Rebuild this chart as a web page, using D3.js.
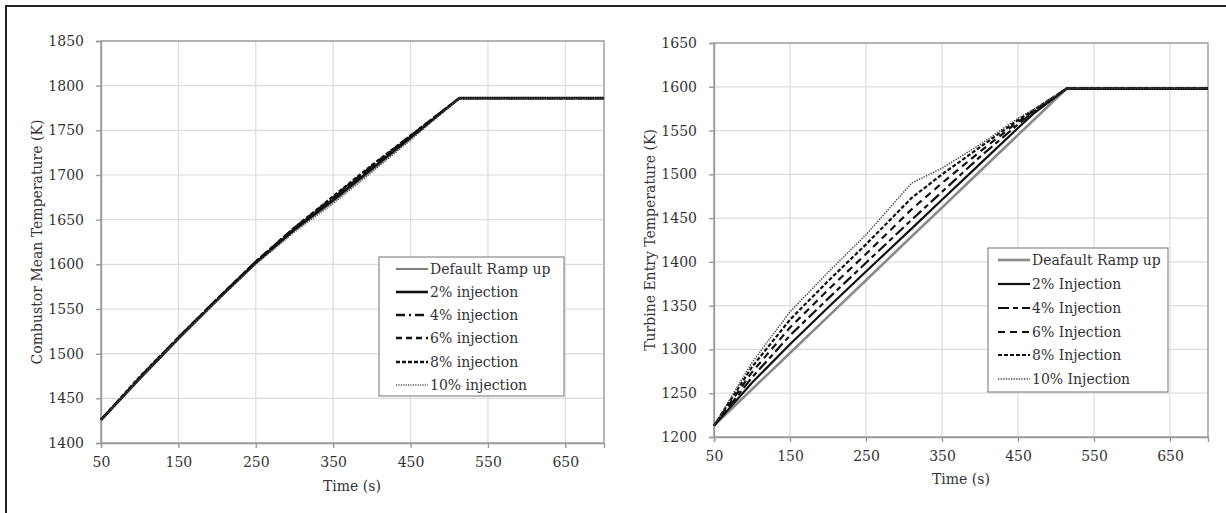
<!DOCTYPE html>
<html><head><meta charset="utf-8">
<script src="https://cdn.jsdelivr.net/npm/d3@7"></script>
<style>
html,body{margin:0;padding:0;background:#fff;}
svg{display:block;}
text{font-family:"DejaVu Serif",serif;fill:#333;}
</style></head><body>
<svg id="c" width="1226" height="513"></svg>
<script>
// ---------- data ----------
const xTicks = [50,150,250,350,450,550,650];
const yTicksLeft = [1400,1450,1500,1550,1600,1650,1700,1750,1800,1850];
const yTicksRight = [1200,1250,1300,1350,1400,1450,1500,1550,1600,1650];

const timeLeft = [50,100,150,200,250,300,350,400,450,513,550,600,650,700];
const cmtDefault = [1426,1472,1517,1560,1601,1638,1670,1705,1741,1786,1786,1786,1786,1786];
const cmt2  = [1426,1472,1517,1560,1602,1639,1672,1707,1742,1786,1786,1786,1786,1786];
const cmt4  = [1426,1473,1518,1561,1602,1640,1674,1709,1743,1786,1786,1786,1786,1786];
const cmt6  = [1426,1473,1518,1561,1603,1641,1675,1710,1744,1786,1786,1786,1786,1786];
const cmt8  = [1426,1474,1518,1561,1603,1641,1676,1711,1744,1786,1786,1786,1786,1786];
const cmt10 = [1426,1472,1517,1559,1600,1636,1668,1703,1739,1786,1786,1786,1786,1786];
const leftLabels = ["Default Ramp up","2% injection","4% injection","6% injection","8% injection","10% injection"];

const timeRight = [50,100,150,200,250,310,350,400,450,470,514,550,600,650,700];
const tetDefault = [1213,1254.5,1296,1337.5,1379,1429,1462,1503.5,1545,1561.5,1598,1598,1598,1598,1598];
const tet2  = [1213,1262,1306,1348,1389,1438,1471,1512,1553,1569,1598,1598,1598,1598,1598];
const tet4  = [1213,1268,1316,1358,1399,1448,1480,1520,1557,1571,1598,1598,1598,1598,1598];
const tet6  = [1213,1274,1325,1368,1409,1460,1490,1526,1560,1572,1598,1598,1598,1598,1598];
const tet8  = [1213,1280,1334,1378,1420,1473,1500,1531,1562,1573,1598,1598,1598,1598,1598];
const tet10 = [1213,1285,1343,1388,1431,1490,1507,1534,1564,1574,1598,1598,1598,1598,1598];
const rightLabels = ["Deafault Ramp up","2% Injection","4% Injection","6% Injection","8% Injection","10% Injection"];

// ---------- styles ----------
const leftStyles = [
  {color:"#7f7f7f", w:2,   dash:null},
  {color:"#111",    w:2.6, dash:null},
  {color:"#111",    w:2.4, dash:"9,4,2,4"},
  {color:"#111",    w:2.4, dash:"6,4"},
  {color:"#111",    w:2.4, dash:"4,2"},
  {color:"#555",    w:1.4, dash:"1.2,1.2"}
];
const rightStyles = [
  {color:"#8a8a8a", w:2.6, dash:null},
  {color:"#111",    w:2.2, dash:null},
  {color:"#111",    w:2.2, dash:"11,4,5,4"},
  {color:"#111",    w:2.2, dash:"7,5"},
  {color:"#111",    w:2.2, dash:"4,2"},
  {color:"#444",    w:1.5, dash:"1.3,1.3"}
];

const svg = d3.select("#c");
const FS = 14;

// outer frame (top & left visible)
svg.append("rect").attr("x",6).attr("y",6).attr("width",1240).attr("height",520)
  .attr("fill","none").attr("stroke","#222").attr("stroke-width",2);

function panel(cfg){
  const g = svg.append("g");
  const x = d3.scaleLinear().domain([50,700]).range([cfg.x0,cfg.x1]);
  const y = d3.scaleLinear().domain(cfg.yDomain).range([cfg.y1,cfg.y0]);
  // grid
  g.append("g").selectAll("line").data(xTicks.slice(1)).join("line")
    .attr("x1",d=>x(d)).attr("x2",d=>x(d)).attr("y1",cfg.y0).attr("y2",cfg.y1)
    .attr("stroke","#dcdcdc").attr("stroke-width",1.2);
  g.append("g").selectAll("line").data(cfg.yTicks.slice(1)).join("line")
    .attr("x1",cfg.x0).attr("x2",cfg.x1).attr("y1",d=>y(d)).attr("y2",d=>y(d))
    .attr("stroke","#dcdcdc").attr("stroke-width",1.2);
  // frame
  g.append("rect").attr("x",cfg.x0).attr("y",cfg.y0).attr("width",cfg.x1-cfg.x0).attr("height",cfg.y1-cfg.y0)
    .attr("fill","none").attr("stroke","#9a9a9a").attr("stroke-width",1.4);
  // axes
  const xa = g.append("g").attr("transform",`translate(0,${cfg.y1})`)
    .call(d3.axisBottom(x).tickValues(xTicks).tickSize(5).tickPadding(9).tickFormat(d3.format("d")));
  const ya = g.append("g").attr("transform",`translate(${cfg.x0},0)`)
    .call(d3.axisLeft(y).tickValues(cfg.yTicks).tickSize(5).tickPadding(12).tickFormat(d3.format("d")));
  [xa,ya].forEach(a=>{
    a.select(".domain").attr("stroke","#9a9a9a").attr("stroke-width",1.4);
    a.selectAll(".tick line").attr("stroke","#9a9a9a").attr("stroke-width",1.4);
    a.selectAll("text").attr("font-size",FS).attr("font-family","DejaVu Serif, serif").attr("fill","#333");
  });
  // titles
  g.append("text").attr("x",cfg.xTitleX).attr("y",cfg.xTitleY).attr("text-anchor","middle")
    .attr("font-size",FS).text("Time (s)");
  g.append("text").attr("transform",`translate(${cfg.yTitleX},${cfg.yTitleY}) rotate(-90)`)
    .attr("text-anchor","middle").attr("dominant-baseline","central")
    .attr("font-size",FS).text(cfg.yTitle);
  // lines
  const line = d3.line().x((d,i)=>x(cfg.time[i])).y(d=>y(d));
  cfg.series.forEach((s,i)=>{
    const st = cfg.styles[i];
    g.append("path").datum(s).attr("d",line).attr("fill","none")
      .attr("stroke",st.color).attr("stroke-width",st.w)
      .attr("stroke-dasharray",st.dash).attr("stroke-linejoin","round");
  });
  // legend
  const L = cfg.legend;
  g.append("rect").attr("x",L.x).attr("y",L.y).attr("width",L.w).attr("height",L.h)
    .attr("fill","#fff").attr("stroke","#8a8a8a").attr("stroke-width",1.2);
  cfg.labels.forEach((lab,i)=>{
    const st = cfg.styles[i];
    const yy = L.rowY[i];
    g.append("line").attr("x1",L.sx0).attr("x2",L.sx1).attr("y1",yy).attr("y2",yy)
      .attr("stroke",st.color).attr("stroke-width",st.w).attr("stroke-dasharray",st.dash);
    g.append("text").attr("x",L.tx).attr("y",yy).attr("dominant-baseline","central")
      .attr("font-size",FS).text(lab);
  });
}

panel({
  x0:101, x1:604, y0:41, y1:443, yDomain:[1400,1850], yTicks:yTicksLeft,
  time:timeLeft, series:[cmtDefault,cmt2,cmt4,cmt6,cmt8,cmt10], styles:leftStyles, labels:leftLabels,
  xTitleX:352, xTitleY:491, yTitleX:37, yTitleY:242, yTitle:"Combustor Mean Temperature (K)",
  legend:{x:379,y:257,w:185,h:139,rowY:[269,292,315,338,362,385],sx0:396,sx1:428,tx:430}
});
panel({
  x0:714, x1:1208, y0:43, y1:437, yDomain:[1200,1650], yTicks:yTicksRight,
  time:timeRight, series:[tetDefault,tet2,tet4,tet6,tet8,tet10], styles:rightStyles, labels:rightLabels,
  xTitleX:961, xTitleY:484, yTitleX:650, yTitleY:240, yTitle:"Turbine Entry Temperature (K)",
  legend:{x:988,y:248,w:180,h:144,rowY:[260,284,308,332,355,379],sx0:998,sx1:1030,tx:1032}
});
</script>
</body></html>
